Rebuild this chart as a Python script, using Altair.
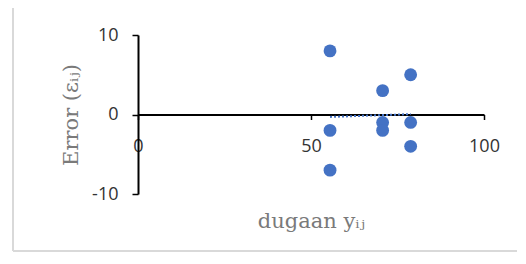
import altair as alt
import pandas as pd

# fitted values (dugaan y_ij) and residuals (error e_ij)
fitted = [55.5, 55.5, 55.5, 70.7, 70.7, 70.7, 78.8, 78.8, 78.8]
errors = [8, -2, -7, 3, -1, -2, 5, -1, -4]

df = pd.DataFrame({"fit": fitted, "err": errors})

blue = "#4472C4"
W, H = 346, 159

x_enc = alt.X("fit:Q",
              scale=alt.Scale(domain=[0, 100], nice=False, zero=False),
              axis=alt.Axis(values=[0, 50, 100], grid=False, offset=-(H / 2),
                            domainColor="#000", domainWidth=2, tickColor="#000",
                            tickWidth=1.5, tickSize=5, labelPadding=18,
                            labelFlush=False, labelExpr="datum.value + ''",
                            labelFont="Open Sans", labelFontSize=18, labelColor="#333",
                            title="dugaan yᵢⱼ", titleFont="DejaVu Serif",
                            titleFontSize=21, titleFontWeight="normal",
                            titleColor="#7a7a7a", titlePadding=55))
y_enc = alt.Y("err:Q",
              scale=alt.Scale(domain=[-10, 10], nice=False),
              axis=alt.Axis(values=[-10, 0, 10], grid=False,
                            domainColor="#000", domainWidth=2, tickColor="#000",
                            tickWidth=1.5, tickSize=6, labelPadding=14,
                            labelFlush=False, labelExpr="datum.value + ''",
                            labelFont="Open Sans", labelFontSize=18, labelColor="#333",
                            title="Error (εᵢⱼ)", titleFont="DejaVu Serif",
                            titleFontSize=21, titleFontWeight="normal",
                            titleColor="#7a7a7a", titlePadding=10))

frame_style = dict(color="#d9d9d9", strokeWidth=1.5, clip=False)
frame_left = alt.Chart(df).mark_rule(**frame_style).encode(
    x=alt.value(-125), y=alt.value(-28), y2=alt.value(216))
frame_top = alt.Chart(df).mark_rule(**frame_style).encode(
    x=alt.value(-125), x2=alt.value(380), y=alt.value(-28))
frame_bottom = alt.Chart(df).mark_rule(**frame_style).encode(
    x=alt.value(-125), x2=alt.value(380), y=alt.value(216))

points = alt.Chart(df).mark_circle(size=165, color=blue, opacity=1).encode(x=x_enc, y=y_enc)

trend = alt.Chart(df).transform_regression("fit", "err").mark_line(
    color=blue, strokeDash=[2, 2], strokeWidth=2).encode(x="fit:Q", y="err:Q")

chart = alt.layer(frame_left, frame_top, frame_bottom, trend, points).properties(
    width=W, height=H,
    autosize=alt.AutoSizeParams(type="none"),
    padding={"left": 130, "top": 27, "right": 33, "bottom": 58},
).configure(background="white", view=alt.ViewConfig(stroke=None))

chart.save("out.html", embed_options={"renderer": "svg", "actions": False})
